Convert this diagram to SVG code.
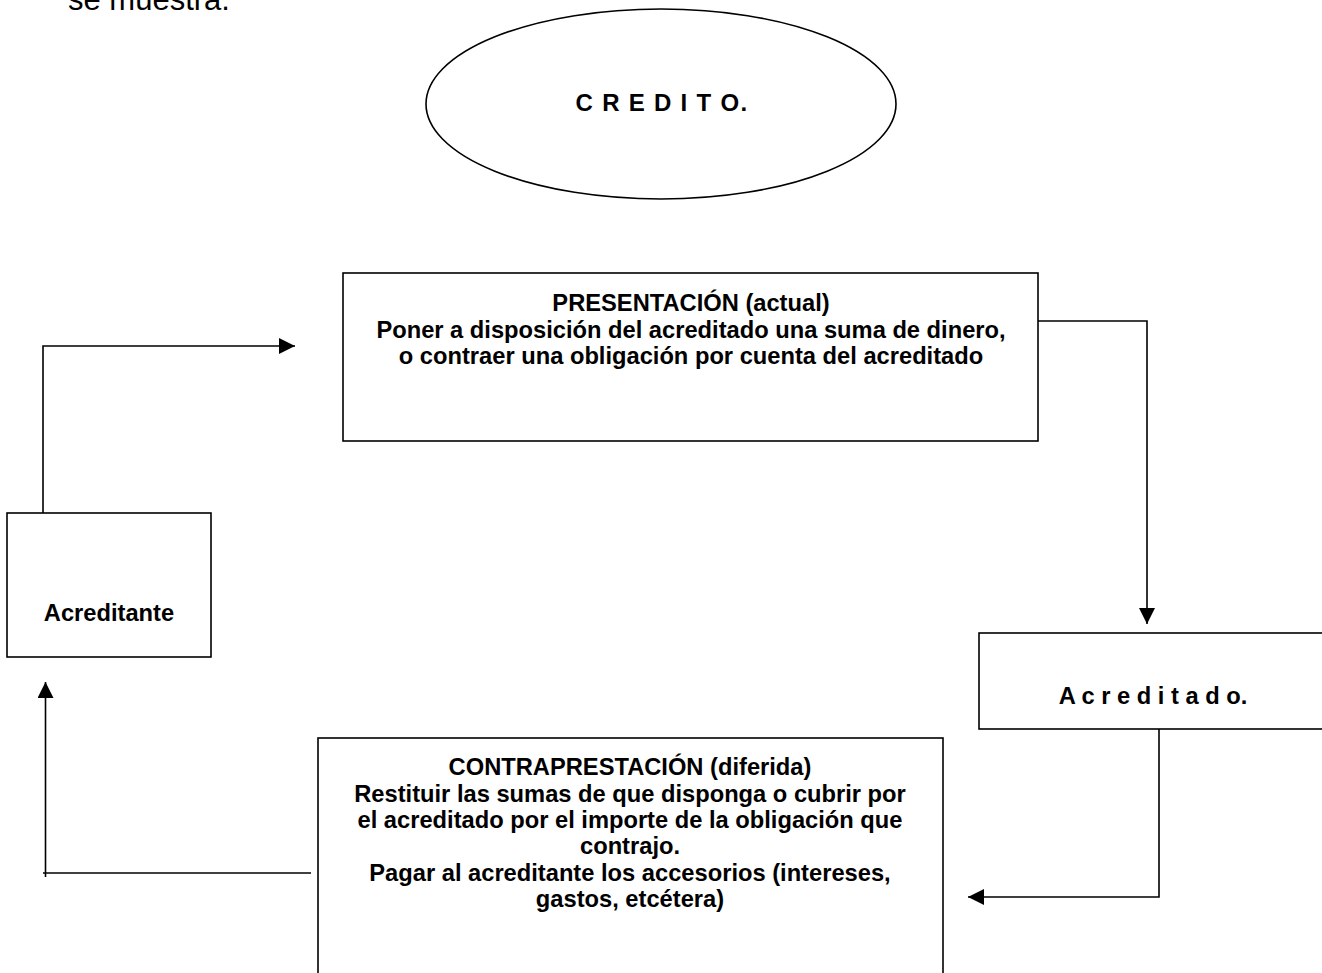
<svg xmlns="http://www.w3.org/2000/svg" width="1322" height="973" viewBox="0 0 1322 973">
<style>
.bx{fill:#fff;stroke:#000;stroke-width:1.6}
.t{font-family:"Liberation Sans",Arial,sans-serif;font-weight:bold;font-size:23.7px;fill:#000;text-anchor:middle}
.c{fill:none;stroke:#000;stroke-width:1.6}
</style>
<defs>
<marker id="ah" markerUnits="userSpaceOnUse" markerWidth="16" markerHeight="16" viewBox="0 0 15 15" refX="15" refY="7.5" orient="auto">
<path d="M0,0 L15,7.5 L0,15 z" fill="#000"/>
</marker>
</defs>
<rect width="1322" height="973" fill="#fff"/>
<text x="68" y="10" style="font-family:'Liberation Sans',Arial,sans-serif;font-size:31px;fill:#000">se muestra.</text>
<g id="credito">
<ellipse cx="661" cy="104" rx="235" ry="95" class="bx"/>
<text x="662" y="111" class="t" style="font-size:24px;letter-spacing:1.3px">C R E D I T O.</text>
</g>
<g id="presentacion">
<rect x="343" y="273" width="695" height="168" class="bx"/>
<text x="691" y="311" class="t">PRESENTACIÓN (actual)</text>
<text x="691" y="338" class="t">Poner a disposición del acreditado una suma de dinero,</text>
<text x="691" y="364" class="t">o contraer una obligación por cuenta del acreditado</text>
</g>
<g id="acreditante">
<rect x="7" y="513" width="204" height="144" class="bx"/>
<text x="109" y="621" class="t">Acreditante</text>
</g>
<g id="acreditado">
<rect x="979" y="633" width="360" height="96" class="bx"/>
<text x="1153" y="704" class="t">A c r e d i t a d o.</text>
</g>
<g id="contraprestacion">
<rect x="318" y="738" width="625" height="260" class="bx"/>
<text x="630" y="775" class="t">CONTRAPRESTACIÓN (diferida)</text>
<text x="630" y="802" class="t">Restituir las sumas de que disponga o cubrir por</text>
<text x="630" y="828" class="t">el acreditado por el importe de la obligación que</text>
<text x="630" y="854" class="t">contrajo.</text>
<text x="630" y="881" class="t">Pagar al acreditante los accesorios (intereses,</text>
<text x="630" y="907" class="t">gastos, etcétera)</text>
</g>
<g id="connectors">
<path class="c" d="M43,513 V346 H295" marker-end="url(#ah)"/>
<path class="c" d="M1038,321 H1147 V624" marker-end="url(#ah)"/>
<path class="c" d="M1159,729 V897 H968" marker-end="url(#ah)"/>
<path class="c" d="M311,873 H43"/>
<path class="c" d="M45.5,877 V682" marker-end="url(#ah)"/>
</g>
</svg>
